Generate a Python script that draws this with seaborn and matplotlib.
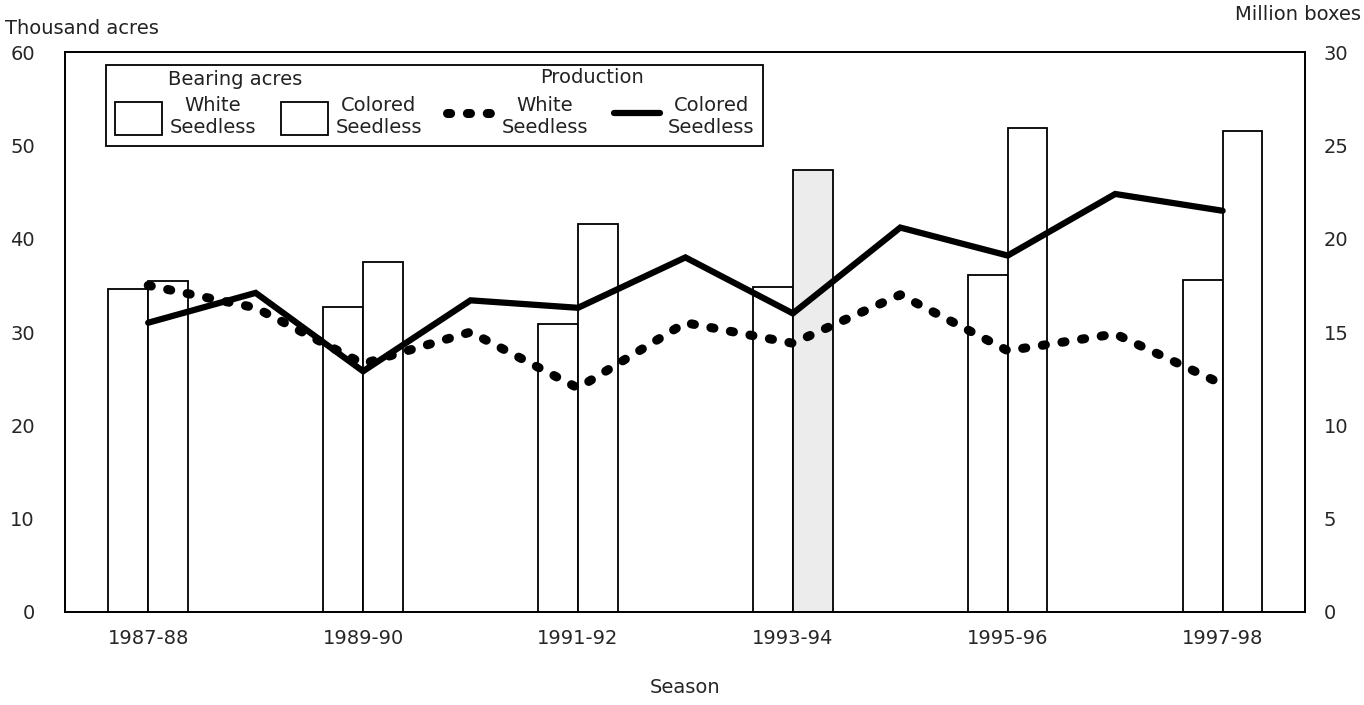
import numpy as np
import pandas as pd
import matplotlib
matplotlib.use("Agg")
import matplotlib.pyplot as plt
import seaborn as sns
from matplotlib.patches import Patch
from matplotlib.lines import Line2D

# --- данные ---
seasons = ["1987-88", "1988-89", "1989-90", "1990-91", "1991-92", "1992-93",
           "1993-94", "1994-95", "1995-96", "1996-97", "1997-98"]
bar_seasons = ["1987-88", "1989-90", "1991-92", "1993-94", "1995-96", "1997-98"]

# Bearing acres (thousand acres)
white_acres = [34.6, 32.7, 30.9, 34.8, 36.1, 35.6]
colored_acres = [35.5, 37.5, 41.6, 47.4, 51.9, 51.5]

# Production (million boxes)
white_prod = [17.5, 16.3, 13.3, 15.0, 12.0, 15.5, 14.4, 17.0, 14.0, 14.9, 12.2]
colored_prod = [15.5, 17.1, 12.9, 16.7, 16.3, 19.0, 16.0, 20.6, 19.1, 22.4, 21.5]

FS = 14
sns.set_theme(style="white")
plt.rcParams.update({"font.family": ["DejaVu Sans"], "font.size": FS,
                     "xtick.labelsize": FS, "ytick.labelsize": FS,
                     "axes.labelsize": FS, "legend.fontsize": FS,
                     "text.color": "#222222"})

bars = pd.DataFrame({"Season": bar_seasons, "White": white_acres, "Colored": colored_acres})
bars = bars.melt(id_vars="Season", var_name="Type", value_name="Acres")

fig = plt.figure(figsize=(13.64, 7.05), dpi=100)
ax = fig.add_axes([0.048, 0.132, 0.909, 0.794])

sns.barplot(data=bars, x="Season", y="Acres", hue="Type", order=seasons,
            hue_order=["White", "Colored"], palette=["white", "white"],
            edgecolor="black", linewidth=1.3, width=0.74, dodge=True,
            legend=False, ax=ax)
# колонка 1993-94 в оригинале с серым растром
ax.containers[1][3].set_facecolor("#ececec")

ax.set_ylim(0, 60)
ax.set_yticks(range(0, 61, 10))
ax.set_xlim(-0.77, len(seasons) - 1 + 0.77)
ax.set_xticks(range(0, len(seasons), 2))
ax.set_xticklabels(seasons[::2])
ax.set_xlabel("Season", labelpad=22)
ax.set_ylabel("")
ax.tick_params(axis="both", length=0)
ax.tick_params(axis="y", pad=22)
ax.tick_params(axis="x", pad=12)

DOTS = (0, (0.35, 1.85))
ax2 = ax.twinx()
xpos = np.arange(len(seasons))
sns.lineplot(x=xpos, y=white_prod, ax=ax2, color="black", linewidth=6.5,
             linestyle=DOTS, dash_capstyle="round")
sns.lineplot(x=xpos, y=colored_prod, ax=ax2, color="black", linewidth=4.5,
             solid_joinstyle="miter")
ax2.set_ylim(0, 30)
ax2.set_yticks(range(0, 31, 5))
ax2.tick_params(axis="y", length=0, pad=13)
ax2.set_ylabel("")

for a in (ax, ax2):
    for s in a.spines.values():
        s.set_color("black")
        s.set_linewidth(1.3)

handles = [
    Patch(facecolor="white", edgecolor="black", linewidth=1.3),
    Patch(facecolor="white", edgecolor="black", linewidth=1.3),
    Line2D([], [], color="black", linewidth=6.5, linestyle=DOTS, dash_capstyle="round"),
    Line2D([], [], color="black", linewidth=4.5),
]
labels = ["White\nSeedless", "Colored\nSeedless", "White\nSeedless", "Colored\nSeedless"]
leg = ax2.legend(handles, labels, ncol=4, loc="upper left",
                 bbox_to_anchor=(0.025, 0.995), frameon=True, fancybox=False,
                 edgecolor="black", framealpha=1, title=" ", title_fontsize=FS,
                 handlelength=2.4, handleheight=2.2, handletextpad=0.4,
                 columnspacing=1.3, borderpad=0.45, labelspacing=0.2)
leg.get_frame().set_linewidth(1.3)
for t in leg.get_texts():
    t.set_multialignment("center")

ax2.text(0.137, 0.951, "Bearing acres", transform=ax2.transAxes,
         ha="center", va="center", zorder=10)
ax2.text(0.425, 0.955, "Production", transform=ax2.transAxes,
         ha="center", va="center", zorder=10)

fig.text(0.004, 1 - 28 / 705, "Thousand acres", ha="left", va="center")
fig.text(0.998, 1 - 15 / 705, "Million boxes", ha="right", va="center")

fig.savefig("out.png", dpi=100)
